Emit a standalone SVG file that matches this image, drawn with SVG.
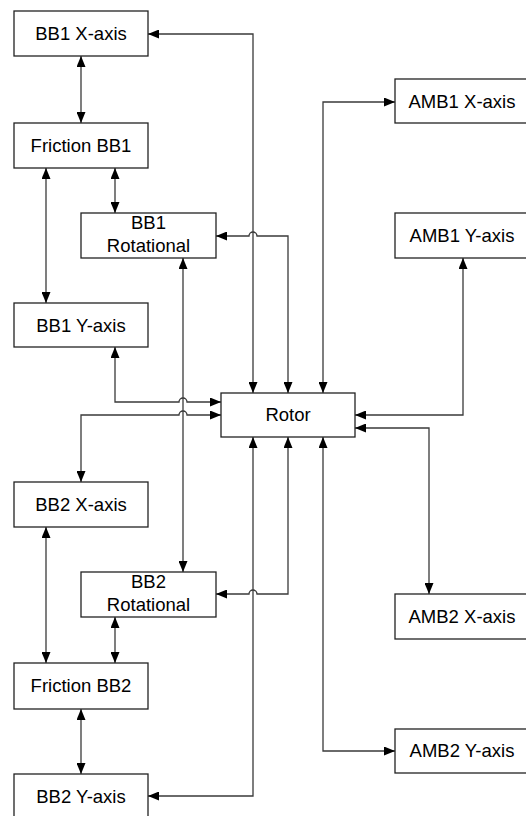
<svg xmlns="http://www.w3.org/2000/svg" width="526" height="816" viewBox="0 0 526 816">
<style>
.box{fill:#fff;stroke:#222;stroke-width:1.3}
.lbl{font-family:"Liberation Sans",Arial,sans-serif;font-size:18.5px;fill:#000;text-anchor:middle}
.c{fill:none;stroke:#3a3a3a;stroke-width:1.3;marker-start:url(#ah);marker-end:url(#ah)}
</style>
<defs>
<marker id="ah" markerUnits="userSpaceOnUse" markerWidth="11" markerHeight="9" refX="11" refY="4.5" orient="auto-start-reverse">
<path d="M0,0 L11,4.5 L0,9 z" fill="#000"/>
</marker>
</defs>
<rect width="526" height="816" fill="#fff"/>
<g id="connectors">
<path class="c" d="M148,34 H253 V393"/>
<path class="c" d="M81,56 V123"/>
<path class="c" d="M46,168 V303"/>
<path class="c" d="M115,168 V213"/>
<path class="c" d="M216,236 H249 A4,4 0 0 1 257,236 H288 V393"/>
<path class="c" d="M183,258 V572"/>
<path class="c" d="M115,347 V402 H179 A4,4 0 0 1 187,402 H221"/>
<path class="c" d="M323,393 V102 H395"/>
<path class="c" d="M355,415 H463 V258"/>
<path class="c" d="M221,415 H187 A4,4 0 0 0 179,415 H81 V482"/>
<path class="c" d="M355,428 H429 V594"/>
<path class="c" d="M323,437 V751 H395"/>
<path class="c" d="M288,437 V594 H257 A4,4 0 0 0 249,594 H216"/>
<path class="c" d="M253,437 V796 H148"/>
<path class="c" d="M46,527 V663"/>
<path class="c" d="M115,617 V663"/>
<path class="c" d="M81,709 V774"/>
</g>
<g id="bb1x"><rect class="box" x="14" y="11" width="134" height="45"/><text class="lbl" x="81" y="40">BB1 X-axis</text></g>
<g id="fbb1"><rect class="box" x="14" y="123" width="134" height="45"/><text class="lbl" x="81" y="152">Friction BB1</text></g>
<g id="bb1r"><rect class="box" x="81" y="213" width="135" height="45"/><text class="lbl" x="148.5" y="229">BB1</text><text class="lbl" x="148.5" y="252">Rotational</text></g>
<g id="bb1y"><rect class="box" x="14" y="303" width="134" height="44"/><text class="lbl" x="81" y="332">BB1 Y-axis</text></g>
<g id="rotor"><rect class="box" x="221" y="393" width="134" height="44"/><text class="lbl" x="288" y="421">Rotor</text></g>
<g id="amb1x"><rect class="box" x="395" y="79" width="134" height="44"/><text class="lbl" x="462" y="108">AMB1 X-axis</text></g>
<g id="amb1y"><rect class="box" x="395" y="213" width="134" height="45"/><text class="lbl" x="462" y="242">AMB1 Y-axis</text></g>
<g id="bb2x"><rect class="box" x="14" y="482" width="134" height="45"/><text class="lbl" x="81" y="511">BB2 X-axis</text></g>
<g id="bb2r"><rect class="box" x="81" y="572" width="135" height="45"/><text class="lbl" x="148.5" y="588">BB2</text><text class="lbl" x="148.5" y="611">Rotational</text></g>
<g id="amb2x"><rect class="box" x="395" y="594" width="134" height="45"/><text class="lbl" x="462" y="623">AMB2 X-axis</text></g>
<g id="fbb2"><rect class="box" x="14" y="663" width="134" height="46"/><text class="lbl" x="81" y="692">Friction BB2</text></g>
<g id="amb2y"><rect class="box" x="395" y="729" width="134" height="44"/><text class="lbl" x="462" y="757">AMB2 Y-axis</text></g>
<g id="bb2y"><rect class="box" x="14" y="774" width="134" height="45"/><text class="lbl" x="81" y="803">BB2 Y-axis</text></g>
</svg>
